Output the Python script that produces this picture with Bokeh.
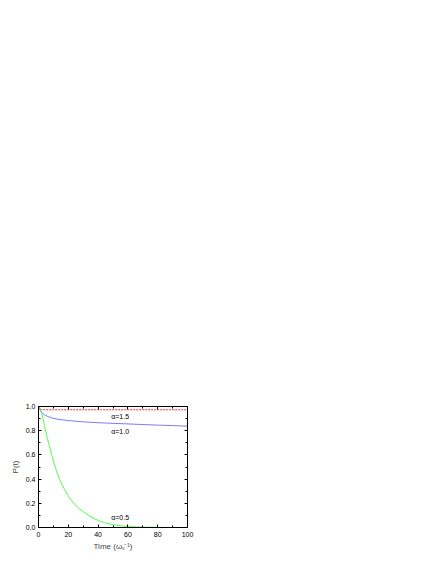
from bokeh.plotting import figure
from bokeh.models import Range1d, LinearAxis, FixedTicker, Label
from bokeh.embed import file_html
from bokeh.resources import INLINE

# data
t_red = [0, 0.5, 1, 2, 3, 5, 10, 20, 40, 60, 80, 100]
p_red = [1.0, 0.99, 0.982, 0.976, 0.974, 0.973, 0.973, 0.973, 0.973, 0.973, 0.973, 0.973]

t_blue = [0, 0.5, 1, 1.5, 2, 3, 4, 5, 6, 8, 10, 12, 15, 20, 25, 30, 40, 50, 60, 70, 80, 90, 100]
p_blue = [1.0, 0.985, 0.972, 0.961, 0.953, 0.941, 0.932, 0.925, 0.919, 0.909, 0.902, 0.897, 0.891, 0.884, 0.878, 0.873, 0.866, 0.861, 0.856, 0.851, 0.846, 0.842, 0.838]

t_green = [0, 1, 2, 3, 4, 5, 6, 7, 8, 9, 10, 11, 12, 13, 14, 15, 17, 20, 23, 26, 30, 35, 40, 45, 50, 55, 60, 65, 70, 80, 90, 100]
p_green = [1.0, 0.985, 0.95, 0.9, 0.845, 0.79, 0.735, 0.685, 0.64, 0.595, 0.55, 0.51, 0.47, 0.435, 0.405, 0.375, 0.325, 0.26, 0.21, 0.17, 0.13, 0.09, 0.058, 0.037, 0.023, 0.014, 0.008, 0.005, 0.003, 0.001, 0.0, 0.0]

labels = ["α=1.5", "α=1.0", "α=0.5"]
label_x = [48.8, 48.8, 48.8]
label_y = [0.92, 0.795, 0.08]

x_ticks = [0, 20, 40, 60, 80, 100]
y_ticks = [0.0, 0.2, 0.4, 0.6, 0.8, 1.0]
x_minor = [10, 30, 50, 70, 90]
y_minor = [0.1, 0.3, 0.5, 0.7, 0.9]

FONT = "Liberation Sans"

p = figure(frame_width=149, frame_height=121, output_backend="svg", toolbar_location=None,
           x_range=Range1d(0, 100), y_range=Range1d(0, 1.0),
           min_border_left=38, min_border_top=406, min_border_right=20, min_border_bottom=24)
p.grid.visible = False
p.outline_line_color = "black"
p.outline_line_width = 1
p.background_fill_color = "white"
p.border_fill_color = "white"

def style_axis(ax, ticks, minor, show_labels=True):
    ax.ticker = FixedTicker(ticks=ticks, minor_ticks=minor)
    ax.major_tick_in = 3
    ax.major_tick_out = 0
    ax.minor_tick_in = 2
    ax.minor_tick_out = 0
    ax.axis_line_color = "black"
    ax.major_tick_line_color = "black"
    ax.minor_tick_line_color = "black"
    ax.major_label_text_font = FONT
    ax.major_label_text_font_size = "7px"
    ax.major_label_text_color = "black" if show_labels else None
    ax.axis_label_text_font = FONT
    ax.axis_label_text_font_size = "8px"
    ax.axis_label_text_font_style = "normal"

xa = p.xaxis[0]
style_axis(xa, x_ticks, x_minor)
xa.axis_label = "Time (ωₛ⁻¹)"
xa.major_label_standoff = 4
xa.axis_label_standoff = 2

ya = p.yaxis[0]
style_axis(ya, y_ticks, y_minor)
ya.axis_label = "P(t)"
ya.major_label_standoff = 3
ya.axis_label_standoff = 3
ya.major_label_overrides = {0.0: "0.0", 0.2: "0.2", 0.4: "0.4", 0.6: "0.6", 0.8: "0.8", 1.0: "1.0"}

top = LinearAxis()
style_axis(top, x_ticks, x_minor, show_labels=False)
top.major_label_text_font_size = "0px"
top.major_label_standoff = 0
p.add_layout(top, "above")
right = LinearAxis()
style_axis(right, y_ticks, y_minor, show_labels=False)
right.major_label_text_font_size = "0px"
right.major_label_standoff = 0
p.add_layout(right, "right")

p.line(t_red, p_red, line_color="#ff3030", line_width=1, line_dash="2 1")
p.line(t_blue, p_blue, line_color="#3030ff", line_width=0.8, line_alpha=0.8)
p.line(t_green, p_green, line_color="#20ff20", line_width=0.8)

for txt, lx, ly in zip(labels, label_x, label_y):
    p.add_layout(Label(x=lx, y=ly, text=txt, text_font=FONT, text_font_size="7px",
                       text_color="black", text_baseline="middle"))

open("out.html", "w").write(file_html(p, INLINE))
